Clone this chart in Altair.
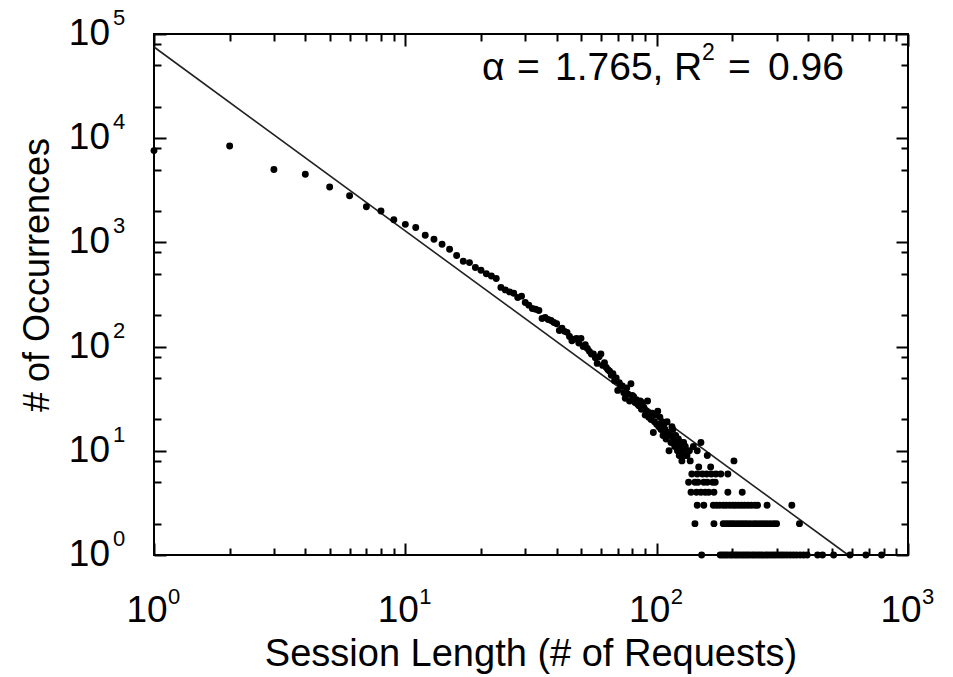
import altair as alt
import pandas as pd

# ---------------- data ----------------
LEN_MAIN = list(range(1, 131))
OCC_MAIN = [7600, 8400, 5000, 4500, 3400, 2800, 2200, 2000, 1650, 1490,
            1390, 1170, 1070, 960, 860, 750, 660, 640, 575, 540,
            500, 475, 450, 370, 350, 335, 325, 296, 305, 265,
            250, 232, 228, 222, 186, 190, 182, 178, 170, 166,
            143, 150, 140, 137, 125, 114, 118, 120, 108, 120,
            100, 104, 96, 90, 85, 85, 78, 69, 80, 85,
            66, 70, 63, 60, 58, 53, 55, 47, 50, 38,
            45, 42, 42, 36, 32, 40, 35, 30, 44, 34,
            33, 29, 31, 28, 27, 30, 25, 29, 26, 22,
            24, 30, 21, 23, 20, 23, 15, 19, 22, 18,
            24, 17, 21, 16, 19, 14, 18, 16, 13, 19,
            15, 10, 14, 12, 17, 16, 13, 11, 14, 12,
            10, 13, 9, 11, 12, 8, 10, 12, 9, 11]

TAIL_12 = [150]
TAIL_11 = [140]
TAIL_10 = [135, 145]
TAIL_9 = [132, 159]
TAIL_8 = [136, 203]
TAIL_7 = [147, 164]
TAIL_6 = [138, 145, 152, 158, 165, 172, 180, 192]
TAIL_5 = [134, 142, 146, 154, 159, 167, 171]
TAIL_4 = [137, 144, 150, 156, 161, 169, 192, 219]
TAIL_3 = [145, 154, 168, 173, 178, 184, 189, 195, 201, 206, 212, 218, 224,
          231, 238, 246, 252, 275, 345]
TAIL_2 = [142, 169, 184, 189, 194, 199, 204, 210, 216, 222, 228, 235, 243,
          250, 258, 266, 274, 283, 292, 300, 370]
TAIL_1 = [151, 179, 183, 187, 191, 196, 200, 205, 209, 214, 219, 224, 229,
          234, 240, 245, 251, 257, 263, 270, 276, 283, 290, 297, 305, 313,
          321, 330, 340, 350, 360, 372, 384, 397, 437, 457, 506, 588, 680, 785]

FIT_X = [1, 578]
FIT_Y = [75000, 1]

X_LABEL_VALUES = [1, 10, 100, 1000]
X_LABEL_EXP = ["0", "1", "2", "3"]
Y_LABEL_VALUES = [1, 10, 100, 1000, 10000, 100000]
Y_LABEL_EXP = ["0", "1", "2", "3", "4", "5"]

X_MINOR = [2, 3, 4, 5, 6, 7, 8, 9, 20, 30, 40, 50, 60, 70, 80, 90,
           200, 300, 400, 500, 600, 700, 800, 900]
Y_MINOR = [2, 5, 8, 20, 50, 80, 200, 500, 800, 2000, 5000, 8000,
           20000, 50000, 80000]

ANNOT_PIECES = ["α", "=", "1.765,", "R", "=", "0.96"]
ANN_LEFT = [482, 517, 555, 674, 728, 768]
ANNOT_SUP = "2"
X_TITLE = "Session Length (# of Requests)"
Y_TITLE = "# of Occurrences"

# ---------------- build tables ----------------
tails = [(12, TAIL_12), (11, TAIL_11), (10, TAIL_10), (9, TAIL_9), (8, TAIL_8),
         (7, TAIL_7), (6, TAIL_6), (5, TAIL_5), (4, TAIL_4), (3, TAIL_3),
         (2, TAIL_2), (1, TAIL_1)]
xs = list(LEN_MAIN)
ys = list(OCC_MAIN)
for yv, lst in tails:
    xs += lst
    ys += [yv] * len(lst)
pts = pd.DataFrame({"x": xs, "y": ys})
fit = pd.DataFrame({"x": FIT_X, "y": FIT_Y})
xl = pd.DataFrame({"v": X_LABEL_VALUES, "base": ["10"] * 4, "exp": X_LABEL_EXP})
yl = pd.DataFrame({"v": Y_LABEL_VALUES, "base": ["10"] * 6, "exp": Y_LABEL_EXP})

W, H = 754, 521
FONT = "Liberation Sans"
MAJ, MIN = 12, 7

xscale = alt.Scale(type="log", domain=[1, 1000], nice=False)
yscale = alt.Scale(type="log", domain=[1, 100000], nice=False)


def tick_axis(orient, offset, values, size):
    return alt.Axis(orient=orient, offset=offset, values=values, labels=False,
                    title=None, domain=False, grid=False, tickSize=size,
                    tickColor="black", tickWidth=2)


# invisible carrier layers: each holds one x axis and one y axis,
# shifted onto the opposite edge so that the ticks point into the plot
def carrier(x_orient, y_orient, xvals, yvals, size):
    return alt.Chart(fit).mark_point(opacity=0).encode(
        x=alt.X("x:Q", scale=xscale,
                axis=tick_axis(x_orient, -H, xvals, size)),
        y=alt.Y("y:Q", scale=yscale,
                axis=tick_axis(y_orient, -W, yvals, size)),
    )


carriers = [
    carrier("top", "right", X_LABEL_VALUES, Y_LABEL_VALUES, MAJ),   # bottom & left, major
    carrier("top", "right", X_MINOR, Y_MINOR, MIN),                 # bottom & left, minor
    carrier("bottom", "left", X_LABEL_VALUES, Y_LABEL_VALUES, MAJ), # top & right, major
    carrier("bottom", "left", X_MINOR, Y_MINOR, MIN),               # top & right, minor
]

points = alt.Chart(pts).mark_circle(size=48, color="black", opacity=1).encode(
    x=alt.X("x:Q", scale=xscale, axis=None),
    y=alt.Y("y:Q", scale=yscale, axis=None),
)

line = alt.Chart(fit).mark_line(color="#222222", strokeWidth=1.6).encode(
    x=alt.X("x:Q", scale=xscale, axis=None),
    y=alt.Y("y:Q", scale=yscale, axis=None),
)

xbase = alt.Chart(xl).mark_text(font=FONT, fontSize=37, align="center",
                                baseline="alphabetic", dx=-7, color="black").encode(
    x=alt.X("v:Q", scale=xscale, axis=None), y=alt.value(H + 67), text="base:N")
xexp = alt.Chart(xl).mark_text(font=FONT, fontSize=22, align="left",
                               baseline="alphabetic", dx=14, color="black").encode(
    x=alt.X("v:Q", scale=xscale, axis=None), y=alt.value(H + 49), text="exp:N")

ybase = alt.Chart(yl).mark_text(font=FONT, fontSize=37, align="right",
                                baseline="alphabetic", dy=11, color="black").encode(
    y=alt.Y("v:Q", scale=yscale, axis=None), x=alt.value(-44), text="base:N")
yexp = alt.Chart(yl).mark_text(font=FONT, fontSize=22, align="left",
                               baseline="alphabetic", dy=-9, color="black").encode(
    y=alt.Y("v:Q", scale=yscale, axis=None), x=alt.value(-41), text="exp:N")

ann_layers = []
for piece, left in zip(ANNOT_PIECES, ANN_LEFT):
    ann_layers.append(
        alt.Chart(pd.DataFrame({"t": [piece]})).mark_text(
            font=FONT, fontSize=39, align="left", baseline="alphabetic",
            color="black").encode(
            x=alt.value(left - 154), y=alt.value(80 - 34), text="t:N"))
ann_layers.append(
    alt.Chart(pd.DataFrame({"t": [ANNOT_SUP]})).mark_text(
        font=FONT, fontSize=23, align="left", baseline="alphabetic",
        color="black").encode(
        x=alt.value(702 - 154), y=alt.value(60 - 34), text="t:N"))

tdf = pd.DataFrame({"xt": [X_TITLE], "yt": [Y_TITLE]})
xtitle = alt.Chart(tdf).mark_text(font=FONT, fontSize=38, align="center",
                                  baseline="alphabetic", color="black").encode(
    x=alt.value(W / 2), y=alt.value(H + 111), text="xt:N")
ytitle = alt.Chart(tdf).mark_text(font=FONT, fontSize=36, align="center",
                                  baseline="middle", angle=270, color="black").encode(
    x=alt.value(38 - 154), y=alt.value(275 - 34), text="yt:N")

chart = alt.layer(
    *carriers, line, points, xbase, xexp, ybase, yexp, *ann_layers,
    xtitle, ytitle
).resolve_axis(x="independent", y="independent").properties(
    width=W, height=H,
    padding={"left": 154, "top": 34, "right": 45, "bottom": 122},
    autosize=alt.AutoSizeParams(type="none"),
    background="white",
).configure_view(stroke="black", strokeWidth=2)

chart.save("out.html", embed_options={"renderer": "svg", "actions": False})
